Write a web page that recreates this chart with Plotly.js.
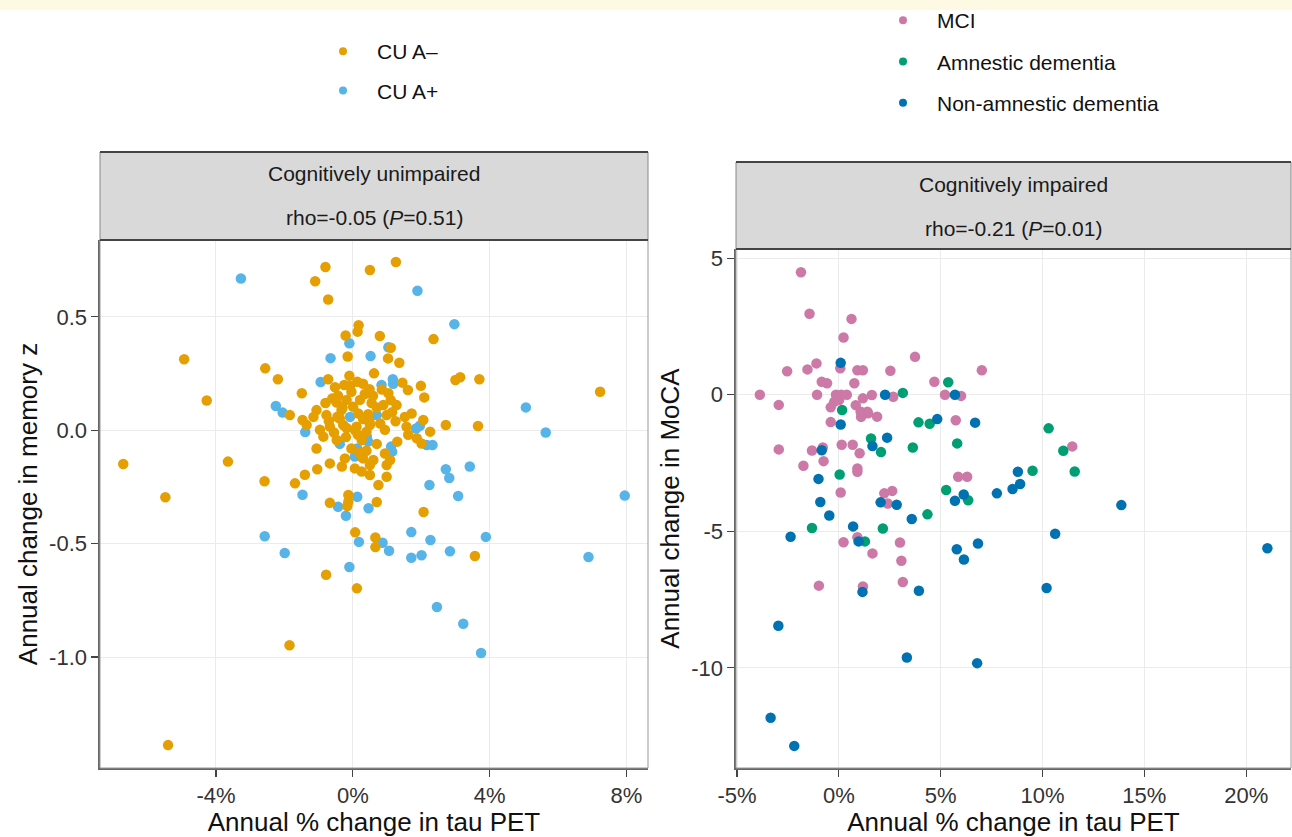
<!DOCTYPE html>
<html>
<head>
<meta charset="utf-8">
<script src="https://cdn.plot.ly/plotly-3.0.1.min.js"></script>
<style>html,body{margin:0;padding:0;background:#fff;}#chart{width:1292px;height:837px;}</style>
</head>
<body>
<div id="chart"></div>
<script>
// ---------------- DATA ----------------
// Cognitively unimpaired: annual % change in tau PET (x) vs annual change in memory z (y)
const cuNegX = [-0.80,0.50,1.26,-1.10,-0.72,0.17,0.14,-0.21,0.79,1.11,1.03,1.36,-0.15,2.36,-4.93,-2.56,-2.19,-4.27,-1.49,-0.72,0.62,1.45,1.61,1.99,2.09,3.00,3.14,3.70,7.23,2.72,3.66,-6.71,-3.65,-5.48,
  0.13,-0.08,-0.52,-0.43,-0.04,0.49,0.59,1.04,1.11,0.89,1.28,-0.47,-0.18,0.21,0.01,
  -1.84,-1.47,-1.06,-0.77,-1.15,-0.33,-0.38,0.16,0.45,0.49,0.99,1.52,1.72,2.06,
  -0.96,-0.67,-0.28,0.11,0.40,0.94,1.57,2.26,1.87,-1.35,-0.86,-0.47,-1.06,-0.18,-0.04,0.26,0.06,0.50,1.62,2.01,
  0.94,1.09,0.99,0.60,0.50,0.30,-0.23,-0.32,-0.67,-1.04,-1.40,-1.69,0.06,0.26,0.50,0.99,0.75,
  -2.58,-0.67,-0.13,-0.13,-0.16,0.70,2.07,0.07,0.66,0.66,3.57,-0.78,0.12,-1.85,-5.40,
  -0.25,0.30,0.35,-0.30,0.70,0.30,-0.60,-0.80,0.80,1.25,-0.55,0.70,1.30,-0.20,0.20,
  -0.10,0.55,-0.45,0.85,0.15,-0.70,1.15,0.40];
const cuNegY = [0.720,0.707,0.742,0.657,0.577,0.463,0.435,0.418,0.416,0.364,0.317,0.298,0.325,0.402,0.313,0.273,0.225,0.131,0.163,0.225,0.251,0.210,0.178,0.196,0.145,0.222,0.234,0.225,0.170,0.023,0.019,-0.149,-0.138,-0.295,
  0.214,0.195,0.190,0.152,0.170,0.181,0.152,0.163,0.133,0.111,0.111,0.122,0.134,0.134,0.104,
  0.067,0.045,0.089,0.067,0.059,0.089,0.052,0.074,0.071,0.038,0.067,0.059,0.074,0.045,
  0.002,0.016,0.023,0.016,-0.006,0.002,0.016,-0.006,-0.035,0.023,-0.028,-0.043,-0.080,0.010,-0.080,-0.043,0.001,0.023,-0.020,-0.058,
  -0.102,-0.131,-0.153,-0.131,-0.153,-0.124,-0.124,-0.160,-0.146,-0.172,-0.196,-0.234,-0.168,-0.182,-0.197,-0.205,-0.241,
  -0.225,-0.320,-0.285,-0.315,-0.334,-0.316,-0.360,-0.450,-0.473,-0.515,-0.554,-0.637,-0.697,-0.948,-1.388,
  0.200,0.205,0.160,0.100,0.100,0.050,0.140,0.120,0.030,0.040,-0.010,-0.060,-0.050,-0.030,-0.100,
  0.240,0.120,0.060,0.180,-0.020,0.040,0.080,-0.090];

const cuPosX = [-3.27,1.89,2.97,-0.10,1.04,-0.65,0.52,-0.94,1.17,1.18,0.84,5.06,5.64,7.95,-2.25,-2.05,-1.39,-0.08,0.70,1.85,1.96,
  -0.38,0.13,0.41,0.45,2.16,2.33,1.12,1.15,0.06,-1.47,2.72,2.82,2.24,3.42,3.08,-0.43,-0.20,0.13,0.46,
  0.18,0.87,1.06,1.71,2.27,1.71,2.01,2.84,-1.99,-0.10,-2.575,3.89,6.89,2.46,3.23,3.75];
const cuPosY = [0.669,0.615,0.468,0.384,0.366,0.318,0.327,0.213,0.225,0.205,0.200,0.101,-0.010,-0.288,0.107,0.078,-0.008,0.059,0.067,0.008,0.020,
  -0.060,-0.080,-0.028,-0.050,-0.065,-0.065,-0.072,-0.094,-0.116,-0.284,-0.172,-0.210,-0.241,-0.160,-0.290,-0.337,-0.377,-0.293,-0.344,
  -0.492,-0.496,-0.531,-0.449,-0.484,-0.562,-0.551,-0.533,-0.541,-0.603,-0.467,-0.470,-0.559,-0.779,-0.853,-0.982];

// Cognitively impaired: annual % change in tau PET (x) vs annual change in MoCA (y)
const mciX = [-1.86,-1.44,0.62,0.23,3.74,7.02,0.07,-2.54,-1.54,-1.10,0.91,1.18,2.53,-0.84,-0.58,0.76,4.69,-3.88,-2.95,-1.07,-0.14,0.12,0.39,
  -0.23,-0.40,0.83,1.18,1.62,1.09,1.44,1.88,2.67,5.21,6.00,-0.40,5.74,-2.95,-1.32,-0.79,0.14,0.68,1.02,11.46,
  -1.74,-0.75,0.91,0.91,0.09,2.23,2.62,2.40,5.86,6.30,0.23,0.91,1.65,3.00,3.07,3.14,-0.98,1.18,0.01,1.07,1.40];
const mciY = [4.49,2.97,2.78,2.10,1.39,0.90,0.97,0.86,0.93,1.15,0.90,0.90,0.88,0.48,0.42,0.42,0.48,0.00,-0.37,0.00,0.00,0.00,0.00,
  -0.26,-0.46,-0.38,-0.13,-0.01,-0.81,-0.68,-0.80,-0.07,0.00,-0.04,-1.00,-0.93,-2.00,-2.04,-1.93,-1.83,-1.83,-2.14,-1.89,
  -2.60,-2.43,-2.70,-2.82,-3.58,-3.61,-3.52,-3.98,-3.00,-3.00,-5.40,-5.22,-5.81,-5.41,-6.08,-6.86,-6.99,-7.02,-0.19,-0.62,-0.62];

const amnX = [5.37,3.14,0.16,3.91,4.46,10.30,1.58,2.07,3.63,5.81,11.02,0.04,-1.32,1.28,2.16,4.35,5.27,6.35,9.51,11.58];
const amnY = [0.46,0.07,-0.56,-1.01,-1.06,-1.23,-1.60,-2.10,-1.93,-1.78,-2.05,-2.92,-4.88,-5.37,-4.90,-4.38,-3.49,-3.86,-2.78,-2.81];

const nonAmnX = [0.09,2.27,5.70,0.09,6.69,4.83,-0.84,1.65,2.37,-1.00,-0.91,-0.47,-2.37,0.70,0.97,3.58,2.05,2.84,5.70,6.13,
  8.79,8.90,8.53,7.76,13.87,10.62,5.79,6.14,6.83,21.04,1.16,3.93,10.20,-2.97,3.34,6.79,-3.35,-2.19];
const nonAmnY = [1.17,0.00,0.00,-1.09,-1.02,-0.89,-2.03,-1.88,-1.57,-3.08,-3.93,-4.42,-5.20,-4.82,-5.37,-4.55,-3.94,-4.03,-3.88,-3.65,
  -2.82,-3.27,-3.45,-3.61,-4.04,-5.09,-5.66,-6.03,-5.45,-5.62,-7.22,-7.18,-7.08,-8.46,-9.62,-9.83,-11.83,-12.86];

const leftXTicks = [-4,0,4,8];
const leftXLabels = ['-4%','0%','4%','8%'];
const leftYTicks = [-1,-0.5,0,0.5];
const leftYLabels = ['-1.0','-0.5','0.0','0.5'];
const rightXTicks = [-5,0,5,10,15,20];
const rightXLabels = ['-5%','0%','5%','10%','15%','20%'];
const rightYTicks = [-10,-5,0,5];
const rightYLabels = ['-10','-5','0','5'];

const seriesNames = {cuNeg:'CU A\u2013', cuPos:'CU A+', mci:'MCI', amn:'Amnestic dementia', nonAmn:'Non-amnestic dementia'};
const stripTexts = ['Cognitively unimpaired','rho=-0.05 (<i>P</i>=0.51)','Cognitively impaired','rho=-0.21 (<i>P</i>=0.01)'];

// ---------------- STYLE / LAYOUT ----------------
const W = 1292, H = 837;
const px = v => v / W;
const py = v => 1 - v / H;
const FONT = '"Liberation Sans", Arial, Helvetica, sans-serif';
const colors = {cuNeg:'#E69F00', cuPos:'#56B4E9', mci:'#CC79A7', amn:'#009E73', nonAmn:'#0072B2'};
const MS = 10.5;

function pts(x, y, key, xa, ya) {
  return {type:'scatter', mode:'markers', x:x, y:y, xaxis:xa, yaxis:ya, name:seriesNames[key],
    marker:{color:colors[key], size:MS, line:{width:0}}, showlegend:false, hoverinfo:'x+y'};
}
function legendItem(key, leg) {
  return {type:'scatter', mode:'markers', x:[null], y:[null], xaxis:'x', yaxis:'y', name:seriesNames[key],
    marker:{color:colors[key], size:8}, legend:leg, legendgroup:key, showlegend:true};
}

const data = [
  pts(cuPosX, cuPosY, 'cuPos', 'x', 'y'),
  pts(cuNegX, cuNegY, 'cuNeg', 'x', 'y'),
  pts(mciX, mciY, 'mci', 'x2', 'y2'),
  pts(amnX, amnY, 'amn', 'x2', 'y2'),
  pts(nonAmnX, nonAmnY, 'nonAmn', 'x2', 'y2'),
  legendItem('cuNeg', 'legend'),
  legendItem('cuPos', 'legend'),
  legendItem('mci', 'legend2'),
  legendItem('amn', 'legend2'),
  legendItem('nonAmn', 'legend2')
];

const axBase = {
  showgrid:true, gridcolor:'#ebebeb', gridwidth:1, zeroline:false,
  ticks:'outside', ticklen:7, tickwidth:1.2, tickcolor:'#444',
  showline:true, linecolor:'#666', linewidth:1.6,
  tickfont:{family:FONT, size:22, color:'#333'}, automargin:false
};
const titleFont = {family:FONT, size:26, color:'#111'};

const L = {l:100, r:648, t:240, b:768, st:152};
const R = {l:736, r:1291, t:249, b:768, st:162};

const shapes = [
  {type:'rect', xref:'paper', yref:'paper', x0:0, x1:1, y0:py(10), y1:1, fillcolor:'#fef9e3', line:{width:0}, layer:'below'},
  {type:'rect', xref:'paper', yref:'paper', x0:px(L.l), x1:px(L.r), y0:py(L.b), y1:py(L.t), line:{color:'#999', width:1}, fillcolor:'rgba(0,0,0,0)'},
  {type:'rect', xref:'paper', yref:'paper', x0:px(R.l), x1:px(R.r), y0:py(R.b), y1:py(R.t), line:{color:'#999', width:1}, fillcolor:'rgba(0,0,0,0)'},
  {type:'rect', xref:'paper', yref:'paper', x0:px(L.l), x1:px(L.r), y0:py(L.t), y1:py(L.st), fillcolor:'#d9d9d9', line:{color:'#888', width:1}},
  {type:'rect', xref:'paper', yref:'paper', x0:px(R.l), x1:px(R.r), y0:py(R.t), y1:py(R.st), fillcolor:'#d9d9d9', line:{color:'#888', width:1}},
  {type:'line', xref:'paper', yref:'paper', x0:px(L.l), x1:px(L.r), y0:py(L.st), y1:py(L.st), line:{color:'#444', width:2}},
  {type:'line', xref:'paper', yref:'paper', x0:px(L.l), x1:px(L.r), y0:py(L.t), y1:py(L.t), line:{color:'#444', width:2}},
  {type:'line', xref:'paper', yref:'paper', x0:px(R.l), x1:px(R.r), y0:py(R.st), y1:py(R.st), line:{color:'#444', width:2}},
  {type:'line', xref:'paper', yref:'paper', x0:px(R.l), x1:px(R.r), y0:py(R.t), y1:py(R.t), line:{color:'#444', width:2}}
];

const stripFont = {family:FONT, size:21, color:'#1a1a1a'};
const annotations = [
  {xref:'paper', yref:'paper', x:px((L.l+L.r)/2), y:py(173), text:stripTexts[0], showarrow:false, font:stripFont, xanchor:'center', yanchor:'middle'},
  {xref:'paper', yref:'paper', x:px((L.l+L.r)/2), y:py(217), text:stripTexts[1], showarrow:false, font:stripFont, xanchor:'center', yanchor:'middle'},
  {xref:'paper', yref:'paper', x:px((R.l+R.r)/2), y:py(184), text:stripTexts[2], showarrow:false, font:stripFont, xanchor:'center', yanchor:'middle'},
  {xref:'paper', yref:'paper', x:px((R.l+R.r)/2), y:py(228), text:stripTexts[3], showarrow:false, font:stripFont, xanchor:'center', yanchor:'middle'}
];

const legendFont = {family:FONT, size:21, color:'#111'};
const layout = {
  width:W, height:H, margin:{l:0, r:0, t:0, b:0},
  paper_bgcolor:'#ffffff', plot_bgcolor:'rgba(0,0,0,0)',
  font:{family:FONT},
  xaxis:Object.assign({}, axBase, {domain:[px(L.l), px(L.r)], range:[-7.39, 8.63], anchor:'y',
    tickvals:leftXTicks, ticktext:leftXLabels,
    title:{text:'Annual % change in tau PET', font:titleFont, standoff:6}}),
  yaxis:Object.assign({}, axBase, {domain:[py(L.b), py(L.t)], range:[-1.489, 0.839], anchor:'x',
    tickvals:leftYTicks, ticktext:leftYLabels,
    title:{text:'Annual change in memory z', font:titleFont, standoff:4}}),
  xaxis2:Object.assign({}, axBase, {domain:[px(R.l), px(R.r)], range:[-5.05, 22.2], anchor:'y2',
    tickvals:rightXTicks, ticktext:rightXLabels,
    title:{text:'Annual % change in tau PET', font:titleFont, standoff:6}}),
  yaxis2:Object.assign({}, axBase, {domain:[py(R.b), py(R.t)], range:[-13.67, 5.34], anchor:'x2',
    tickvals:rightYTicks, ticktext:rightYLabels,
    title:{text:'Annual change in MoCA', font:titleFont, standoff:4}}),
  legend:{x:px(309), y:py(31), xanchor:'left', yanchor:'top', bgcolor:'rgba(0,0,0,0)', borderwidth:0,
    font:legendFont, itemwidth:58, tracegroupgap:9, itemclick:false, itemdoubleclick:false},
  legend2:{x:px(869), y:py(0), xanchor:'left', yanchor:'top', bgcolor:'rgba(0,0,0,0)', borderwidth:0,
    font:legendFont, itemwidth:58, tracegroupgap:11, itemclick:false, itemdoubleclick:false},
  shapes:shapes,
  annotations:annotations,
  showlegend:true
};

Plotly.newPlot('chart', data, layout, {displayModeBar:false, staticPlot:true});
</script>
</body>
</html>
